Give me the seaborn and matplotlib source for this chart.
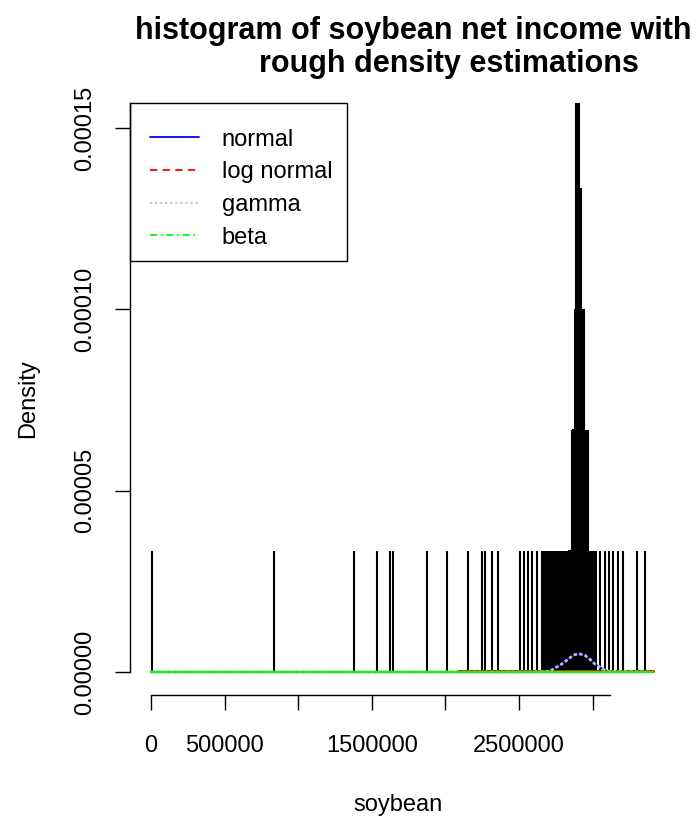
import numpy as np
import pandas as pd
import matplotlib
matplotlib.use("Agg")
import matplotlib.pyplot as plt
from matplotlib.lines import Line2D
from matplotlib.patches import Rectangle
import seaborn as sns

# ---------------- data ----------------
soybean_values = [
    5000, 836000, 1379000, 1535000, 1624000, 1644000, 1875000, 2011000,
    2153000, 2249000, 2269000, 2316000, 2357000, 2507000, 2534000, 2561000,
    2588000, 2622000, 2656000,
    2663000, 2672000, 2681000, 2690000, 2699000, 2708000, 2717000, 2726000,
    2735000, 2744000, 2753000, 2762000, 2771000, 2780000, 2789000, 2798000,
    2807000, 2816000, 2825000, 2834000, 2843000, 2852000, 2861000, 2870000,
    2879000, 2888000, 2897000, 2906000, 2915000, 2924000, 2933000, 2942000,
    2951000, 2960000, 2969000, 2978000, 2987000, 2996000, 3005000, 3014000,
    3023000,
    3050000, 3084000, 3111000, 3138000, 3172000, 3206000, 3301000, 3356000,
]
soybean_counts = [
    1, 1, 1, 1, 1, 1, 1, 1,
    1, 1, 1, 1, 1, 1, 1, 1,
    1, 1, 1,
    1, 1, 1, 1, 1, 1, 1, 1,
    1, 1, 1, 1, 1, 1, 1, 1,
    1, 1, 1, 1, 1, 1, 2, 2,
    3, 5, 5, 5, 4, 4, 3, 3,
    2, 2, 2, 1, 1, 1, 1, 1,
    1,
    1, 1, 1, 1, 1, 1, 1, 1,
]

curve_x = [0, 2600000, 2710000, 2744000, 2778000, 2812000, 2846000, 2880000,
           2914000, 2948000, 2982000, 3016000, 3050000, 3084000, 3104000, 3410000]
normal_y = [0, 0, 0.18e-6, 1.1e-6, 1.84e-6, 2.85e-6, 3.95e-6, 4.78e-6,
            4.96e-6, 4.6e-6, 3.49e-6, 2.2e-6, 1.29e-6, 0.55e-6, 0.18e-6, 0]
gamma_y = [0, 0, 0.2e-6, 1.1e-6, 1.85e-6, 2.85e-6, 3.95e-6, 4.8e-6,
           4.96e-6, 4.58e-6, 3.47e-6, 2.2e-6, 1.3e-6, 0.55e-6, 0.2e-6, 0]
lognorm_x = [2085000, 3410000]
lognorm_y = [3e-7, 3e-7]
beta_x = [0, 3410000]
beta_y = [0, 0]

x_ticks = [0, 500000, 1000000, 1500000, 2000000, 2500000, 3000000]
x_tick_labels = ["0", "500000", "", "1500000", "", "2500000", ""]
y_ticks = [0, 0.00005, 0.00010, 0.00015]
y_tick_labels = ["0.00000", "0.00005", "0.00010", "0.00015"]
legend_labels = ["normal", "log normal", "gamma", "beta"]

# ---------------- style ----------------
sns.set_style("white")
plt.rcParams["font.family"] = ["Liberation Sans", "DejaVu Sans"]
plt.rcParams["text.color"] = "black"
plt.rcParams["axes.labelcolor"] = "black"
plt.rcParams["xtick.color"] = "black"
plt.rcParams["ytick.color"] = "black"

W, H = 697, 823
fig = plt.figure(figsize=(W / 100, H / 100), dpi=100)
ax = fig.add_axes([130 / W, 1 - 695 / H, 535 / W, 592 / H])

# histogram
df = pd.DataFrame({"soybean": soybean_values, "n": soybean_counts})
total = float(sum(soybean_counts))
bw = 30000.0 / total
edges = []
for v in sorted(soybean_values):
    edges += [v - bw / 2, v + bw / 2]
sns.histplot(data=df, x="soybean", weights="n", bins=edges, stat="density",
             fill=False, color="black", linewidth=1.5, ax=ax, element="bars")

# density curves
cn = pd.DataFrame({"x": curve_x, "normal": normal_y, "gamma": gamma_y})
sns.lineplot(data=cn, x="x", y="normal", color="#0000FF", linewidth=1.2,
             ax=ax, estimator=None, sort=False)
sns.lineplot(x=lognorm_x, y=lognorm_y, color="#FF0000", linewidth=2.2,
             ax=ax, estimator=None, sort=False)
sns.lineplot(data=cn, x="x", y="gamma", color="#BEBEBE", linewidth=2.0,
             linestyle=(0, (1.2, 0.8)), ax=ax, estimator=None, sort=False)
sns.lineplot(x=beta_x, y=beta_y, color="#00FF00", linewidth=1.6,
             ax=ax, estimator=None, sort=False)

# axes
ax.set_xlim((130 - 151) * 6793, (665 - 151) * 6793)
ax.set_ylim(-23 / 3.627e6, 569 / 3.627e6)
for s in ["top", "right"]:
    ax.spines[s].set_visible(False)
for s in ["left", "bottom"]:
    ax.spines[s].set_color("black")
    ax.spines[s].set_linewidth(1.0)
ax.spines["bottom"].set_bounds(0, 3118000)
ax.spines["left"].set_bounds(0, 569 / 3.627e6)

ax.set_xticks(x_ticks)
ax.set_xticklabels(x_tick_labels, fontsize=17)
ax.set_yticks(y_ticks)
ax.set_yticklabels(y_tick_labels, fontsize=17, rotation=90, va="center")
ax.tick_params(axis="both", which="major", direction="out", length=10.5,
               width=1.0, color="black", labelcolor="black",
               bottom=True, left=True, top=False, right=False)
ax.tick_params(axis="x", pad=18)
ax.tick_params(axis="y", pad=14)
ax.set_xlabel("")
ax.set_ylabel("")

# legend (box drawn separately)
fig.patches.append(Rectangle((130 / W, 1 - 261 / H), 217 / W, 158 / H,
                             transform=fig.transFigure, fill=False,
                             edgecolor="black", linewidth=1.0, zorder=5))
handles = [
    Line2D([], [], color="#0000FF", linewidth=1.3),
    Line2D([], [], color="#FF0000", linewidth=1.3, linestyle=(0, (4, 3))),
    Line2D([], [], color="#BEBEBE", linewidth=1.3, linestyle=(0, (1.2, 1.6))),
    Line2D([], [], color="#00FF00", linewidth=1.3, linestyle=(0, (4, 2, 1, 2))),
]
leg = ax.legend(handles, legend_labels, loc="upper left",
                bbox_to_anchor=(132 / W, 1 - 111 / H),
                bbox_transform=fig.transFigure,
                borderaxespad=0, fontsize=17, frameon=False,
                handlelength=2.1, handletextpad=0.95,
                labelspacing=0.45, borderpad=0.75)

# titles / labels
fig.text(413.5 / W, 1 - 39 / H, "histogram of soybean net income with",
         ha="center", va="baseline", fontsize=22, fontweight="bold")
fig.text(449 / W, 1 - 72 / H, "rough density estimations",
         ha="center", va="baseline", fontsize=22, fontweight="bold")
fig.text(28 / W, 1 - 399 / H, "Density", rotation=90, ha="center",
         va="center", fontsize=17)
fig.text(398 / W, 1 - 805 / H, "soybean", ha="center", va="center", fontsize=17)

fig.savefig("out.png", dpi=100)
